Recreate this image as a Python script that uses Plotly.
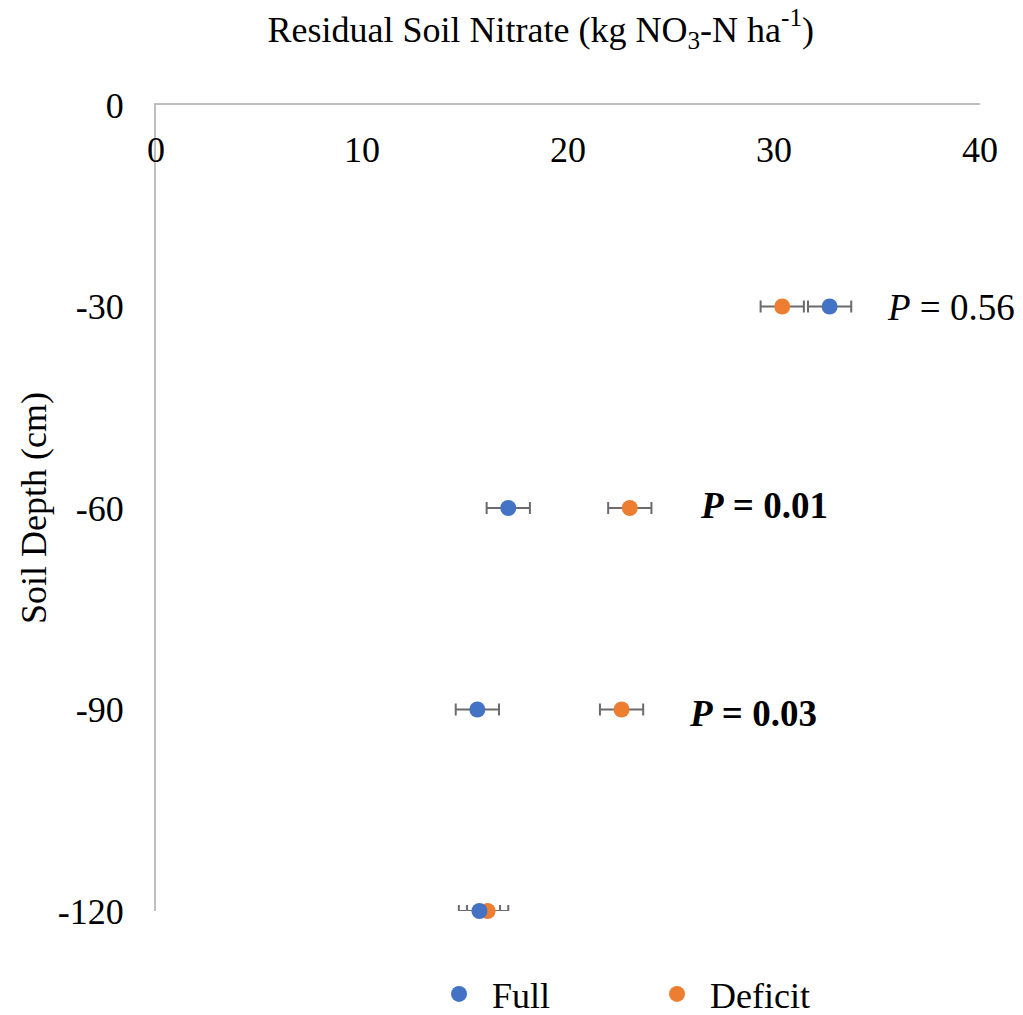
import plotly.graph_objects as go

# Soil depth (cm) and residual nitrate by irrigation treatment
depths = [-30, -60, -90, -120]
full_vals = [32.7, 17.1, 15.6, 15.7]
full_err = [1.05, 1.05, 1.05, 1.0]
deficit_vals = [30.4, 23.0, 22.6, 16.1]
deficit_err = [1.05, 1.05, 1.05, 1.0]

p_labels = ["<i>P</i> = 0.56", "<b><i>P</i> = 0.01</b>", "<b><i>P</i> = 0.03</b>", "<i>P</i> = 0.89"]
p_x = [35.4, 26.3, 25.8, 20.2]
p_y = [-30.1, -59.6, -90.6, -120.3]

x_ticks = [0, 10, 20, 30, 40]
y_ticks = [0, -30, -60, -90, -120]
y_tick_text = ["0", "-30", "-60", "-90", "-120"]

FONT = "Liberation Serif, Times New Roman, serif"
BLUE = "#4472C4"
ORANGE = "#ED7D31"
BAR = "#6b6b6b"

fig = go.Figure()

# error bars, clipped to the plotting area
for name, vals, err in [("Deficit", deficit_vals, deficit_err), ("Full", full_vals, full_err)]:
    fig.add_trace(go.Scatter(
        x=vals, y=depths, mode="markers", showlegend=False, hoverinfo="skip",
        marker=dict(size=1, opacity=0),
        error_x=dict(type="data", array=err, visible=True, color=BAR, thickness=2, width=6),
        cliponaxis=True,
    ))

# point markers
for name, vals, color in [("Deficit", deficit_vals, ORANGE), ("Full", full_vals, BLUE)]:
    fig.add_trace(go.Scatter(
        x=vals, y=depths, mode="markers", name=name,
        marker=dict(size=16, color=color),
        cliponaxis=False,
    ))

for txt, xx, yy in zip(p_labels, p_x, p_y):
    fig.add_annotation(x=xx, y=yy, xref="x", yref="y", text=txt, showarrow=False,
                       xanchor="left", yanchor="middle",
                       font=dict(family=FONT, size=37, color="black"))

fig.update_layout(
    width=1023, height=1015,
    margin=dict(l=156, r=43, t=105, b=104, autoexpand=False),
    paper_bgcolor="white", plot_bgcolor="white",
    font=dict(family=FONT, size=36, color="black"),
    title=dict(text="Residual Soil Nitrate (kg NO<sub>3</sub>-N ha<sup>-1</sup>)",
               x=0.467, xref="paper", xanchor="center",
               y=1 - 29 / 1015, yref="container", yanchor="middle",
               font=dict(family=FONT, size=36, color="black")),
    xaxis=dict(range=[0, 40], tickvals=x_ticks, side="top", showline=True,
               linecolor="#BFBFBF", linewidth=2, showgrid=False, zeroline=False,
               ticks="", ticklabelposition="inside", ticklabelstandoff=36,
               ticklabeloverflow="allow", automargin=False,
               tickfont=dict(size=36, color="black")),
    yaxis=dict(range=[-120, 0], tickvals=y_ticks, ticktext=y_tick_text, showline=True,
               linecolor="#BFBFBF", linewidth=2, showgrid=False, zeroline=False,
               ticks="", ticklabelstandoff=23, automargin=False,
               tickfont=dict(size=36, color="black"),
               title=dict(text="Soil Depth (cm)", standoff=0,
                          font=dict(size=36, color="black"))),
    legend=dict(orientation="h", x=0.3277, xanchor="left", y=-0.103, yanchor="middle",
                traceorder="reversed", font=dict(size=36, color="black"),
                itemwidth=56, entrywidth=147, entrywidthmode="pixels",
                tracegroupgap=0, borderwidth=0),
)

fig.write_html("out.html")
